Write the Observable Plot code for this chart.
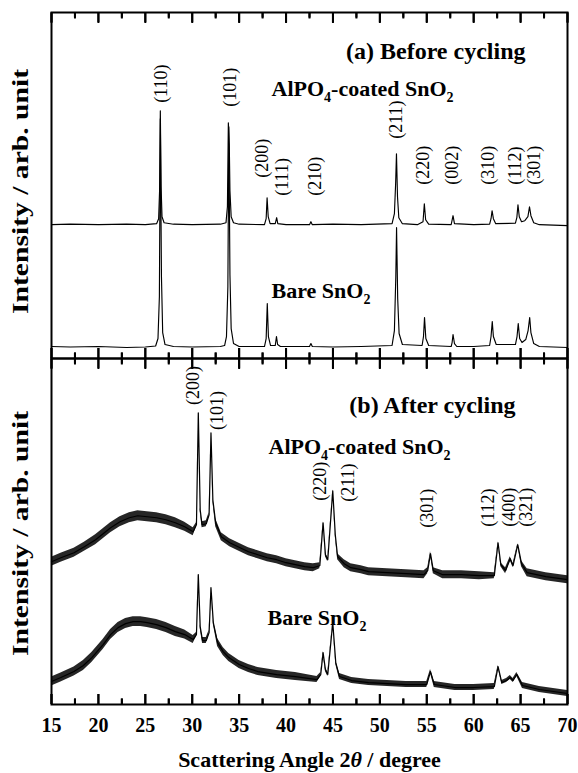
<!DOCTYPE html>
<html><head><meta charset="utf-8">
<script src="https://cdn.jsdelivr.net/npm/d3@7"></script>
<script src="https://cdn.jsdelivr.net/npm/@observablehq/plot@0.6"></script>
<style>html,body{margin:0;padding:0;background:#fff;}</style>
</head><body><div id="chart"></div>
<script>
// ---------- data (2θ in degrees, intensity in arb. units) ----------
const panels = ["a", "b"];
const panelTitles = ["(a) Before cycling", "(b) After cycling"];
const sampleNames = ["AlPO4-coated SnO2", "Bare SnO2"];
const yAxisLabel = "Intensity / arb. unit";
const xAxisLabel = "Scattering Angle 2θ / degree";
const majorTicks = [15, 20, 25, 30, 35, 40, 45, 50, 55, 60, 65, 70];
const minorTicks = [17.5, 22.5, 27.5, 32.5, 37.5, 42.5, 47.5, 52.5, 57.5, 62.5, 67.5];

// (a) before cycling — [2θ, intensity]
const coatedBefore = [
  [15,134],[17,134.5],[20,134],[23,134.5],[25,134],[26.2,135],[26.42,140],[26.52,168],[26.6,248],[26.68,172],[26.78,142],[27.0,136],[28,134.5],
  [30,134],[33,134.5],[33.6,136],[33.75,152],[33.85,236],[33.95,214],[34.02,168],[34.15,142],[34.4,136],[35,134.5],
  [37.7,134],[37.88,140],[37.98,161],[38.1,142],[38.3,135],[38.85,135],[39.0,141],[39.12,135],[40,134],
  [42.5,134],[42.65,137],[42.8,134],[45,134.5],[48,134],[51.3,135],[51.55,145],[51.68,175],[51.77,205],[51.88,162],[52.02,141],[52.4,135],
  [54,134],[54.6,137],[54.74,155],[54.88,139],[55.2,134.5],[57.6,134],[57.8,143],[57.95,135],[60,134],
  [61.7,134.5],[61.85,140],[61.96,148],[62.1,140],[62.35,135],[64.45,135.5],[64.6,141],[64.72,154],[64.86,142],[65.1,137],[65.45,138],
  [65.78,142],[65.95,152],[66.1,143],[66.4,136],[67,134],[70,133]
];
const bareBefore = [
  [15,12],[17,11.5],[20,12],[23,11],[25,11.5],[26.1,12.5],[26.35,20],[26.5,62],[26.6,240],[26.72,82],[26.85,26],[27.1,14],[28,12],
  [30,11.5],[33,12],[33.45,13],[33.65,22],[33.8,72],[33.9,232],[34.02,84],[34.15,30],[34.4,15],[35,12],
  [37.7,12],[37.88,20],[38.0,55],[38.12,22],[38.35,13],[38.85,13],[38.98,22],[39.1,14],[39.4,12],
  [42.5,12],[42.65,15],[42.8,12],[45,11.5],[48,12],[51.3,13],[51.55,28],[51.7,82],[51.78,131],[51.9,60],[52.05,25],[52.4,14],
  [54.5,13],[54.65,22],[54.76,41],[54.9,20],[55.2,13],[57.6,12],[57.7,16],[57.8,24],[57.95,15],[58.2,12],[60,12],
  [61.7,13],[61.85,22],[61.98,37],[62.1,22],[62.4,14],[64.45,14],[64.62,22],[64.75,35],[64.9,20],[65.15,16],[65.55,19],
  [65.8,28],[65.97,41],[66.1,26],[66.4,15],[67,12],[70,11]
];

// (b) after cycling — [2θ, intensity, noise half-amplitude]
const coatedAfter = [
  [15,143,4.5],[16,147,4.5],[17.4,152,4.5],[18.5,158,4.5],[19.7,165,5],[20.5,171,5],[21.3,177,5],[22.3,183,5],[23.3,187,5],[24.2,189,5],
  [25.2,188,5],[26.2,187,5],[27.2,185,5],[28.2,182,5],[29.2,178,4.5],[30.1,173,4],[30.45,180,2],[30.65,292,1],[30.85,195,2],
  [31.05,180,3],[31.5,181,3],[31.8,190,2],[32.0,272,1],[32.2,205,2],[32.5,182,4],[33.1,168,4],[34,162,4],[35.1,157,4],
  [36,153,4],[37.0,150,4],[38,147,4],[39.0,145,4],[40,142,4],[41.0,140,4],[42,138,4],[42.9,137,4],[43.6,139,3],
  [43.95,182,1],[44.2,150,2],[44.45,145,2],[44.98,214,1],[45.25,170,2],[45.5,148,3],[46.2,141,4],[46.9,137,4],[48,135,4],
  [48.8,133,4],[50.8,132,4],[52.8,131,4],[54.7,130,4],[55.1,134,3],[55.4,151,2],[55.7,134,3],[56.7,130,4],[58.7,130,4],
  [60.6,129,4],[62.2,129,3],[62.6,162,1],[62.9,140,2],[63.4,134,3],[63.9,146,2],[64.2,139,2],[64.7,160,1],[65.1,141,3],
  [65.7,132,4],[67.7,128,4],[70,125,4]
];
const bareAfter = [
  [15,23,4.5],[16,27,4.5],[17.4,33,4.5],[18.4,39,5],[19.3,47,5],[20.5,60,5],[21.3,70,5],[22.1,77,5],[22.9,81,5],[23.7,83,5],
  [24.5,83,5],[25.2,82,5],[26.2,80,5],[27.2,77,5],[28.2,73,5],[29.2,70,4.5],[30.1,65,4],[30.45,70,2],[30.65,130,1],[30.85,78,2],
  [31.1,64,3],[31.5,64,3],[31.8,72,2],[32.0,117,1],[32.25,82,2],[32.7,62,4],[33.3,53,4],[33.9,47,4],[35,40,4],[36,36,4],
  [37.0,33,4],[39,30,4],[41.0,28,4],[43.3,25,3],[43.7,30,2],[43.95,52,1],[44.2,35,2],[44.45,30,2],[44.98,82,1],[45.3,42,2],
  [45.7,28,3],[47,24,3],[48.8,22,3],[52.8,20,3],[55.0,20,3],[55.4,33,2],[55.8,20,3],[58,17,3],[60,17,3],[62.2,18,3],
  [62.6,38,1],[63.0,22,2],[63.5,24,2],[63.9,27,2],[64.2,24,2],[64.6,30,2],[65.2,19,3],[67,15,3],[70,11,3]
];

// Miller-index labels: [label, 2θ of label, intensity at label foot]
const hklBefore = [
  ["(110)",26.68,256],["(101)",34.08,252],["(200)",37.49,181],["(111)",39.62,163],["(210)",43.14,163],["(211)",51.77,220],
  ["(220)",54.65,174],["(002)",57.74,174],["(310)",61.58,174],["(112)",64.46,174],["(301)",66.48,174]
];
const hklAfter = [
  ["(200)",30.15,300],["(101)",32.7,275],["(220)",43.6,204],["(211)",46.66,203],["(301)",55.0,177],
  ["(112)",61.6,178],["(400)",63.75,178],["(321)",65.55,178]
];

// ---------- chart ----------
const W = 578, H = 773, MT = 11, MB = 69, ML = 51, MR = 11;
const facetH = (H - MT - MB) / 2;
const FONT = "'Liberation Serif', 'Times New Roman', Times, serif";
const inA = () => panels[0], inB = () => panels[1];
const X = d => d[0], Y = d => d[1];

// tick table: one row per panel × tick value × edge
const tickRows = [];
for (const p of panels) for (const k of ["top", "bot"]) {
  for (const t of majorTicks) tickRows.push({p, t, k, major: true});
  for (const t of minorTicks) tickRows.push({p, t, k, major: false});
}
const tickLen = d => (d.major ? 10 : 5.5);

const baseMarks = [
  // inward ticks on top and bottom of each panel
  Plot.ruleX(tickRows, {
    x: "t", fy: "p",
    y1: d => (d.k === "top" ? facetH : 0),
    y2: d => (d.k === "top" ? facetH - tickLen(d) : tickLen(d)),
    stroke: "black", strokeWidth: 2
  }),

  // traces
  Plot.line(coatedBefore, {x: X, y: Y, fy: inA, stroke: "black", strokeWidth: 1.15}),
  Plot.line(bareBefore, {x: X, y: Y, fy: inA, stroke: "black", strokeWidth: 1.15}),
  Plot.areaY(coatedAfter, {x: X, y1: d => d[1] - d[2], y2: d => d[1] + d[2], fy: inB, fill: "black", fillOpacity: 0.85}),
  Plot.line(coatedAfter, {x: X, y: Y, fy: inB, stroke: "black", strokeWidth: 1.2}),
  Plot.areaY(bareAfter, {x: X, y1: d => d[1] - d[2], y2: d => d[1] + d[2], fy: inB, fill: "black", fillOpacity: 0.85}),
  Plot.line(bareAfter, {x: X, y: Y, fy: inB, stroke: "black", strokeWidth: 1.2}),

  // Miller indices
  Plot.text(hklBefore, {x: d => d[1], y: d => d[2], text: d => d[0], fy: inA, rotate: -90, textAnchor: "start", lineAnchor: "middle", fontSize: 18, fill: "black"}),
  Plot.text(hklAfter, {x: d => d[1], y: d => d[2], text: d => d[0], fy: inB, rotate: -90, textAnchor: "start", lineAnchor: "middle", fontSize: 18, fill: "black"}),

  // panel titles
  Plot.text([panelTitles[0]], {text: d => d, fy: inA, frameAnchor: "top-right", textAnchor: "end", dx: -42, dy: 29, fontSize: 24, fontWeight: "bold"}),
  Plot.text([panelTitles[1]], {text: d => d, fy: inB, frameAnchor: "top-right", textAnchor: "end", dx: -52, dy: 37, fontSize: 24, fontWeight: "bold"}),

  // sample names
  Plot.text([sampleNames[0]], {text: d => d, fy: inA, frameAnchor: "top-left", textAnchor: "start", dx: 220, dy: 68, fontSize: 22, fontWeight: "bold"}),
  Plot.text([sampleNames[1]], {text: d => d, fy: inA, frameAnchor: "top-left", textAnchor: "start", dx: 220, dy: 270, fontSize: 22, fontWeight: "bold"}),
  Plot.text([sampleNames[0]], {text: d => d, fy: inB, frameAnchor: "top-left", textAnchor: "start", dx: 217, dy: 80, fontSize: 22, fontWeight: "bold"}),
  Plot.text([sampleNames[1]], {text: d => d, fy: inB, frameAnchor: "top-left", textAnchor: "start", dx: 216, dy: 251, fontSize: 22, fontWeight: "bold"}),

  // y-axis titles
  Plot.text([yAxisLabel], {text: d => d, fy: inA, frameAnchor: "left", rotate: -90, textAnchor: "middle", dx: -31, dy: 6, fontSize: 24, fontWeight: "bold"}),
  Plot.text([yAxisLabel], {text: d => d, fy: inB, frameAnchor: "left", rotate: -90, textAnchor: "middle", dx: -31, dy: 2, fontSize: 24, fontWeight: "bold"}),

  Plot.frame({stroke: "black", strokeWidth: 2}),

  // x axis labels + title
  Plot.axisX(majorTicks, {anchor: "bottom", tickSize: 0, tickPadding: 13, fontSize: 20, fontWeight: "bold", label: null}),
  Plot.text([xAxisLabel], {text: d => d, fy: inB, frameAnchor: "bottom", lineAnchor: "bottom", dy: 62, fontSize: 22, fontWeight: "bold"})
];

// inward ticks also drawn through the library's axis marks, on every panel
const axisTickMarks = () => [
  Plot.axisX(majorTicks, {anchor: "top", tickSize: 10, dy: 10, facetAnchor: null, tickFormat: () => "", label: null, stroke: "black", strokeWidth: 2}),
  Plot.axisX(majorTicks, {anchor: "bottom", tickSize: 10, dy: -10, facetAnchor: null, tickFormat: () => "", label: null, stroke: "black", strokeWidth: 2}),
  Plot.axisX(minorTicks, {anchor: "top", tickSize: 5.5, dy: 5.5, facetAnchor: null, tickFormat: () => "", label: null, stroke: "black", strokeWidth: 2}),
  Plot.axisX(minorTicks, {anchor: "bottom", tickSize: 5.5, dy: -5.5, facetAnchor: null, tickFormat: () => "", label: null, stroke: "black", strokeWidth: 2})
];

const options = marks => ({
  width: W, height: H,
  marginTop: MT, marginBottom: MB, marginLeft: ML, marginRight: MR,
  style: {fontFamily: FONT},
  x: {domain: [15, 70], axis: null},
  y: {domain: [0, facetH], axis: null},
  fy: {domain: panels, axis: null, padding: 0},
  marks
});

let chart;
try {
  chart = Plot.plot(options([...baseMarks, ...axisTickMarks()]));
} catch (e) {
  chart = Plot.plot(options(baseMarks));
}
document.getElementById("chart").appendChild(chart);

// subscripts, italic theta, stretched y titles
const NS = "http://www.w3.org/2000/svg";
d3.select(chart).selectAll("text").each(function () {
  const s = this.textContent;
  if (sampleNames.includes(s)) {
    this.textContent = "";
    let prevSub = false;
    for (const p of s.split(/(\d)/)) {
      if (!p) continue;
      const t = document.createElementNS(NS, "tspan");
      t.textContent = p;
      const isSub = /^\d$/.test(p);
      if (isSub) { t.setAttribute("font-size", "14"); t.setAttribute("dy", "6"); }
      else if (prevSub) t.setAttribute("dy", "-6");
      prevSub = isSub;
      this.appendChild(t);
    }
  } else if (s === xAxisLabel) {
    this.textContent = "";
    for (const p of s.split(/(θ)/)) {
      if (!p) continue;
      const t = document.createElementNS(NS, "tspan");
      t.textContent = p;
      if (p === "θ") t.setAttribute("font-style", "italic");
      this.appendChild(t);
    }
  } else if (s === yAxisLabel) {
    this.setAttribute("textLength", "245");
    this.setAttribute("lengthAdjust", "spacingAndGlyphs");
  }
});
</script></body></html>
